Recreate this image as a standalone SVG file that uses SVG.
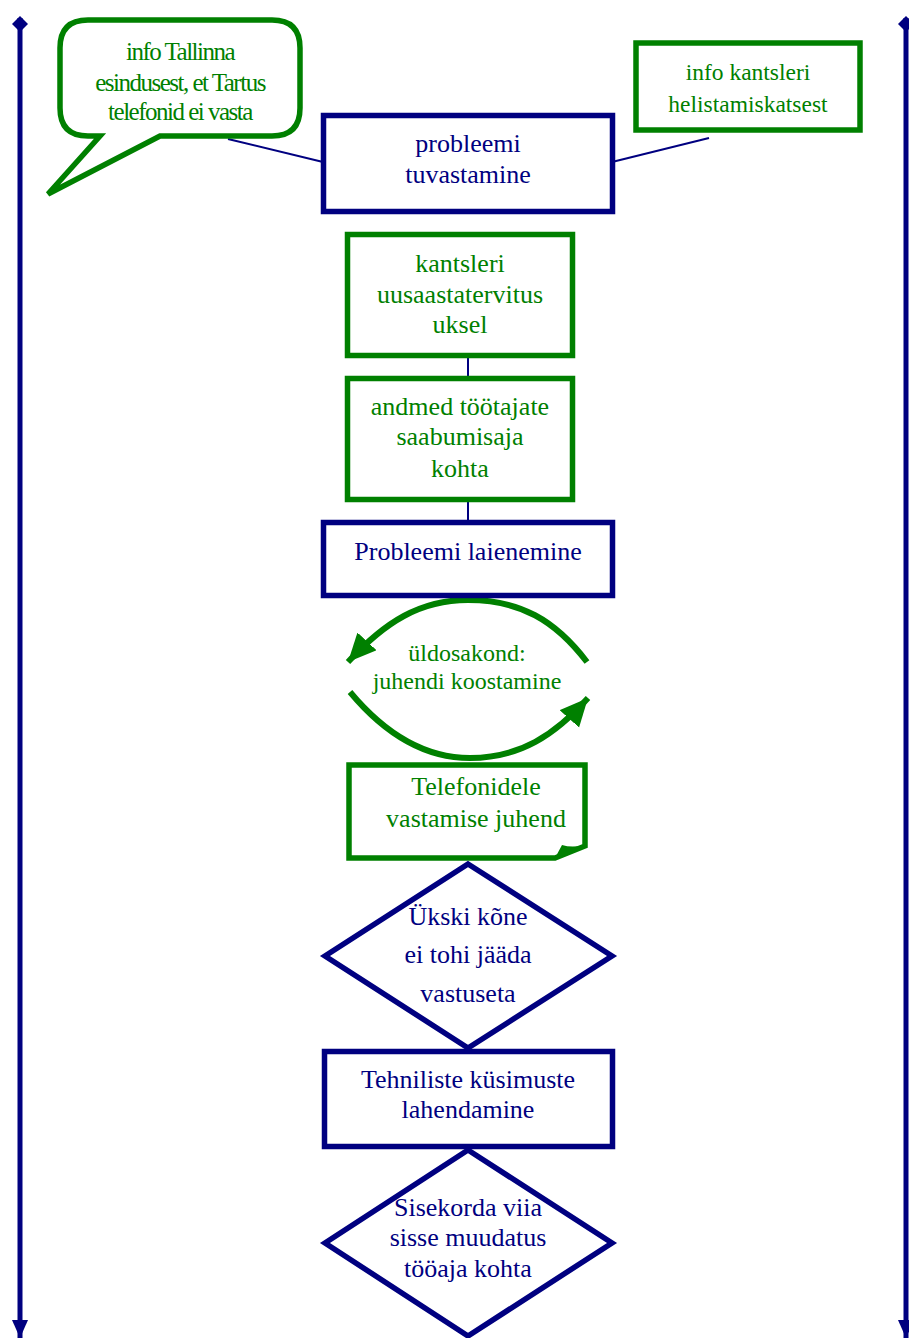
<svg xmlns="http://www.w3.org/2000/svg" width="909" height="1338" viewBox="0 0 909 1338">
<style>
  .nb{fill:#fff;stroke:#000080;stroke-width:5.5}
  .gb{fill:#fff;stroke:#008000;stroke-width:5.5}
  .t{font-family:"Liberation Serif","Times New Roman",serif;font-size:26px;text-anchor:middle}
  .tn{fill:#000080}
  .tg{fill:#008000}
  .cn{stroke:#000080;stroke-width:2;fill:none}
  .ax{stroke:#000080;stroke-width:5;fill:none}
  .garc{stroke:#008000;stroke-width:6;fill:none}
</style>
<defs>
  <marker id="ga" markerUnits="userSpaceOnUse" markerWidth="32" markerHeight="30" refX="28" refY="13" orient="auto">
    <path d="M0,0 L28,13 L0,26 Z" fill="#008000"/>
  </marker>
  <marker id="na" markerUnits="userSpaceOnUse" markerWidth="20" markerHeight="20" refX="18" refY="8" orient="auto">
    <path d="M0,0 L18,8 L0,16 Z" fill="#000080"/>
  </marker>
  <marker id="nd" markerUnits="userSpaceOnUse" markerWidth="20" markerHeight="20" refX="2" refY="8" orient="auto">
    <path d="M0,8 L8,0 L16,8 L8,16 Z" fill="#000080"/>
  </marker>
</defs>

<g id="axes">
  <line class="ax" x1="20" y1="18" x2="20" y2="1338" marker-start="url(#nd)" marker-end="url(#na)"/>
  <line class="ax" x1="906" y1="18" x2="906" y2="1338" marker-start="url(#nd)" marker-end="url(#na)"/>
</g>

<g id="connectors">
  <line class="cn" x1="228" y1="139" x2="323" y2="162"/>
  <line class="cn" x1="709" y1="138" x2="612" y2="162"/>
  <line class="cn" x1="468" y1="356" x2="468" y2="378"/>
  <line class="cn" x1="468" y1="500" x2="468" y2="522"/>
  <path class="garc" d="M587,662 C555,620 520,600 468,600 C420,600 385,622 348,662" marker-end="url(#ga)"/>
  <path class="garc" d="M350,692 C380,728 420,758 470,758 C520,758 555,735 588,698" marker-end="url(#ga)"/>
</g>

<g id="bubble">
  <path class="gb" d="M88,20 L272,20 Q300,20 300,48 L300,108 Q300,136 272,136 L160,136 L48,194 L100,136 L88,136 Q60,136 60,108 L60,48 Q60,20 88,20 Z"/>
  <g class="t tg" style="font-size:25px;letter-spacing:-1.5px">
    <text x="180" y="60">info Tallinna</text>
    <text x="180" y="91">esindusest, et Tartus</text>
    <text x="180" y="120">telefonid ei vasta</text>
  </g>
</g>

<g id="info-kantsleri">
  <rect class="gb" x="636" y="43" width="224" height="87"/>
  <g class="t tg" style="font-size:23.5px">
    <text x="748" y="80">info kantsleri</text>
    <text x="748" y="112">helistamiskatsest</text>
  </g>
</g>

<g id="probleemi-tuvastamine">
  <rect class="nb" x="323.5" y="115.5" width="289" height="96"/>
  <text class="t tn" x="468" y="152">probleemi</text>
  <text class="t tn" x="468" y="183">tuvastamine</text>
</g>

<g id="kantsleri-uusaastatervitus">
  <rect class="gb" x="347.5" y="234.5" width="225" height="121"/>
  <text class="t tg" x="460" y="272">kantsleri</text>
  <text class="t tg" x="460" y="303">uusaastatervitus</text>
  <text class="t tg" x="460" y="333">uksel</text>
</g>

<g id="andmed">
  <rect class="gb" x="347.5" y="378.5" width="225" height="121"/>
  <text class="t tg" x="460" y="415">andmed töötajate</text>
  <text class="t tg" x="460" y="445">saabumisaja</text>
  <text class="t tg" x="460" y="477">kohta</text>
</g>

<g id="probleemi-laienemine">
  <rect class="nb" x="323.5" y="522.5" width="289" height="73"/>
  <text class="t tn" x="468" y="560">Probleemi laienemine</text>
</g>

<g id="uldosakond">
  <text class="t tg" style="font-size:24px" x="467" y="661">üldosakond:</text>
  <text class="t tg" style="font-size:24px" x="467" y="689">juhendi koostamine</text>
</g>

<g id="telefonidele">
  <path class="gb" d="M349,765 L585,765 L585,846 L555,858 L349,858 Z"/>
  <path d="M555,858 L562,845 Q572,848 585,845 Z" fill="#008000"/>
  <text class="t tg" x="476" y="795">Telefonidele</text>
  <text class="t tg" x="476" y="827">vastamise juhend</text>
</g>

<g id="ykski-kone">
  <polygon class="nb" points="468,864 612,956 468,1048 325,956"/>
  <text class="t tn" x="468" y="925">Ükski kõne</text>
  <text class="t tn" x="468" y="963">ei tohi jääda</text>
  <text class="t tn" x="468" y="1002">vastuseta</text>
</g>

<g id="tehniliste">
  <rect class="nb" x="324.5" y="1051.5" width="288" height="95"/>
  <text class="t tn" x="468" y="1088">Tehniliste küsimuste</text>
  <text class="t tn" x="468" y="1118">lahendamine</text>
</g>

<g id="sisekorda">
  <polygon class="nb" points="468,1150 612,1243 468,1336 325,1243"/>
  <text class="t tn" x="468" y="1216">Sisekorda viia</text>
  <text class="t tn" x="468" y="1246">sisse muudatus</text>
  <text class="t tn" x="468" y="1277">tööaja kohta</text>
</g>
</svg>
